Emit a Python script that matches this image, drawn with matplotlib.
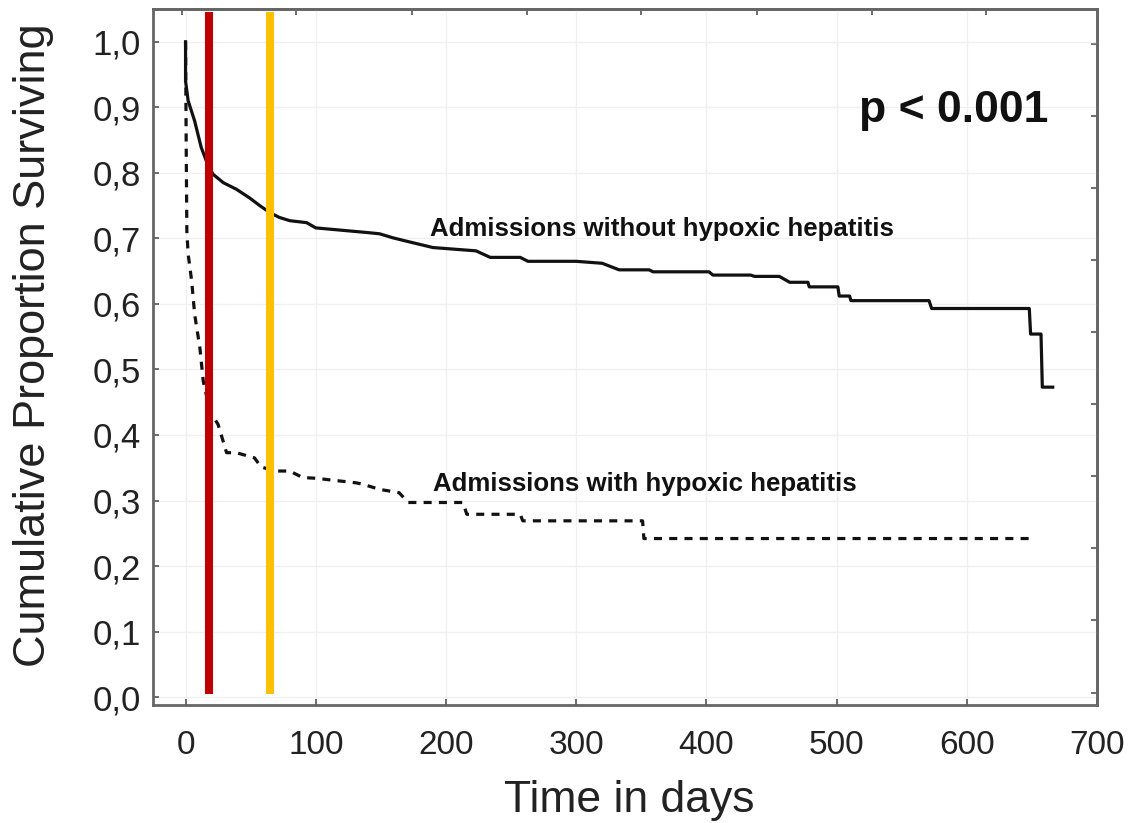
import matplotlib
matplotlib.use('Agg')
import matplotlib.pyplot as plt

# Kaplan-Meier curves (days, proportion surviving)
solid_days = [0, 0, 2, 7, 12, 16, 21, 29, 39, 49, 57, 65, 72, 80, 93, 100, 139, 149,
              159, 167, 190, 223, 234, 257, 263, 300, 320, 333, 356, 359, 402, 405,
              434, 437, 456, 464, 478, 479, 501, 502, 510, 511, 571, 573, 648, 649,
              657, 658, 666]
solid_surv = [1.0, 0.94, 0.91, 0.879, 0.839, 0.818, 0.798, 0.785, 0.775, 0.762, 0.75,
              0.739, 0.732, 0.727, 0.724, 0.716, 0.709, 0.707, 0.701, 0.697, 0.686,
              0.681, 0.671, 0.671, 0.665, 0.665, 0.662, 0.652, 0.652, 0.649, 0.649,
              0.644, 0.644, 0.642, 0.642, 0.633, 0.633, 0.626, 0.626, 0.612, 0.612,
              0.605, 0.605, 0.593, 0.593, 0.554, 0.554, 0.473, 0.473]

dashed_days = [0, 0.5, 1, 2, 4.7, 7, 11, 13.6, 17, 20, 25, 31.5, 39, 53, 58, 70, 80,
               90, 100, 131, 136, 149, 164, 171, 213, 216, 257, 259, 351, 352, 652]
dashed_surv = [1.0, 0.84, 0.711, 0.676, 0.635, 0.584, 0.533, 0.482, 0.452, 0.432,
               0.416, 0.373, 0.373, 0.365, 0.351, 0.345, 0.345, 0.335, 0.334, 0.327,
               0.325, 0.317, 0.312, 0.297, 0.297, 0.279, 0.279, 0.269, 0.269, 0.242,
               0.242]

marker_days = [18, 65]
marker_colors = ['#C00000', '#FFC000']

x_ticks = [0, 100, 200, 300, 400, 500, 600, 700]
y_ticks = [0.0, 0.1, 0.2, 0.3, 0.4, 0.5, 0.6, 0.7, 0.8, 0.9, 1.0]
y_tick_labels = ['0,0', '0,1', '0,2', '0,3', '0,4', '0,5', '0,6', '0,7', '0,8', '0,9', '1,0']

plt.rcParams['font.family'] = ['Liberation Sans', 'DejaVu Sans']
plt.rcParams['lines.scale_dashes'] = False

fig = plt.figure(figsize=(11.28, 8.23), dpi=100)
ax = fig.add_axes([153 / 1128, 1 - 705 / 823, 944 / 1128, 696 / 823])

ax.plot(solid_days, solid_surv, color='#111111', lw=2.3, zorder=3)
ax.plot(dashed_days, dashed_surv, color='#111111', lw=2.3, dashes=(5.8, 5.2), zorder=3)

for d, c in zip(marker_days, marker_colors):
    ax.vlines(d, 0.005, 1.045, colors=c, lw=5.8, zorder=4)

ax.text(188, 0.714, 'Admissions without hypoxic hepatitis', fontsize=18.6,
        fontweight='bold', color='#111111', va='center', ha='left')
ax.text(190, 0.325, 'Admissions with hypoxic hepatitis', fontsize=18.6,
        fontweight='bold', color='#111111', va='center', ha='left')
ax.text(517, 0.895, 'p < 0.001', fontsize=32, fontweight='bold',
        color='#111111', va='center', ha='left')

ax.set_xlim(-25, 700)
ax.set_ylim(-0.012, 1.05)
ax.set_xticks(x_ticks)
ax.set_yticks(y_ticks)
ax.set_yticklabels(y_tick_labels)
ax.grid(True, color='#f0f0f0', lw=1)
ax.set_axisbelow(True)

ax.tick_params(axis='both', direction='in', length=4, width=1.2, color='#555555',
               labelsize=24, labelcolor='#222222')
ax.tick_params(axis='x', pad=18)
ax.tick_params(axis='y', pad=9, labelsize=25)
for s in ax.spines.values():
    s.set_color('#666666')
    s.set_linewidth(2)

# Statistica-style secondary ticks on the top and right border
top = ax.secondary_xaxis('top')
top.set_xticks([-3, 85, 174, 262, 350, 439, 527, 615])
top.tick_params(direction='in', length=4, width=1.2, color='#555555', labeltop=False)
right = ax.secondary_yaxis('right')
right.set_yticks([0.997, 0.887, 0.777, 0.667, 0.557, 0.447, 0.337, 0.227, 0.117, 0.007])
right.tick_params(direction='in', length=4, width=1.2, color='#555555', labelright=False)
for s in list(top.spines.values()) + list(right.spines.values()):
    s.set_color('#666666')
    s.set_linewidth(2)

ax.set_xlabel('Time in days', fontsize=32, color='#222222')
ax.set_ylabel('Cumulative Proportion Surviving', fontsize=32.5, color='#222222')
ax.xaxis.set_label_coords(0.505, -0.108)
ax.yaxis.set_label_coords(-0.105, 0.517)

fig.savefig('out.png', dpi=100)
